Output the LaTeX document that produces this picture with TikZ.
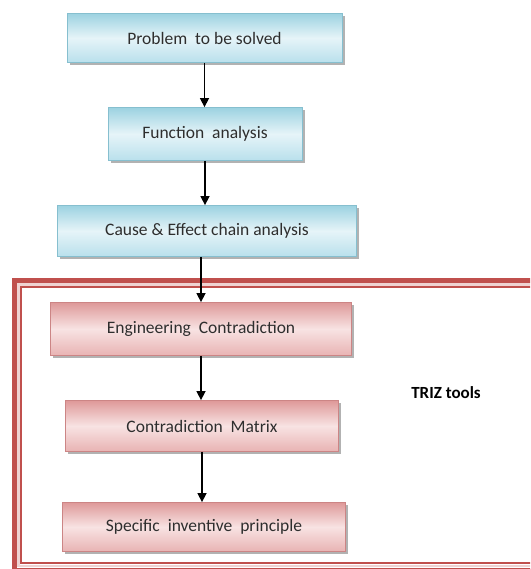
\documentclass[tikz,border=0pt]{standalone}
\usepackage{fontspec}
\setmainfont{Carlito}
\usetikzlibrary{shadows,arrows.meta}
\definecolor{bluetop}{HTML}{9CD2E1}
\definecolor{bluemid}{HTML}{E6F4F8}
\definecolor{bluebot}{HTML}{B9E0EC}
\definecolor{blueedge}{HTML}{86BFCF}
\definecolor{redtop}{HTML}{DE9999}
\definecolor{redmid}{HTML}{F8E3E3}
\definecolor{redbot}{HTML}{E8B3B3}
\definecolor{rededge}{HTML}{CC8585}
\definecolor{framered}{HTML}{C0504D}
\definecolor{textgray}{HTML}{2E2E2E}
\tikzset{
  boxbase/.style={rectangle, inner sep=0pt, text=textgray,
    font=\fontsize{17.5}{20}\selectfont, line width=0.8pt,
    drop shadow={shadow xshift=2.5pt, shadow yshift=-2.5pt, fill=black!55, opacity=0.55}},
  bluebox/.style={boxbase, draw=blueedge, top color=bluetop, bottom color=bluebot, middle color=bluemid},
  redbox/.style={boxbase, draw=rededge, top color=redtop, bottom color=redbot, middle color=redmid},
  arr/.style={line width=1.5pt, -{Triangle[width=9pt,length=9pt]}},
}
\begin{document}
\begin{tikzpicture}[x=1pt,y=-1pt]
\useasboundingbox (0,0) rectangle (530,569);
\begin{scope}
\clip (0,0) rectangle (530,569);
\draw[line width=5pt, framered] (14.5,280.5) rectangle (560,570);
\draw[line width=2.5pt, framered!25] (18.5,284.5) rectangle (560,566);
\draw[line width=1.3pt, framered] (21,287) rectangle (540,563);
\end{scope}
\node[bluebox, minimum width=275pt, minimum height=49pt] (b1) at (204.5,38) {Problem\ \ to be solved};
\node[bluebox, minimum width=194pt, minimum height=53pt] (b2) at (205,134) {Function\ \ analysis};
\node[bluebox, minimum width=299pt, minimum height=51pt] (b3) at (207,231) {Cause \& Effect chain analysis};
\node[redbox, minimum width=301pt, minimum height=53pt] (b4) at (201,329) {Engineering\ \ Contradiction};
\node[redbox, minimum width=273pt, minimum height=51pt] (b5) at (202,426) {Contradiction\ \ Matrix};
\node[redbox, minimum width=283pt, minimum height=49pt] (b6) at (204,527) {Specific\ \ inventive\ \ principle};
\node[text=black, font=\fontsize{17}{20}\selectfont\bfseries] (triz) at (446,393) {TRIZ tools};
\draw[arr] (b1.south) -- (b1.south |- b2.north);
\draw[arr] (b2.south) -- (b2.south |- b3.north);
\draw[arr] (b4.north |- b3.south) -- (b4.north);
\draw[arr] (b4.south) -- (b4.south |- b5.north);
\draw[arr] (b5.south) -- (b5.south |- b6.north);
\end{tikzpicture}
\end{document}
